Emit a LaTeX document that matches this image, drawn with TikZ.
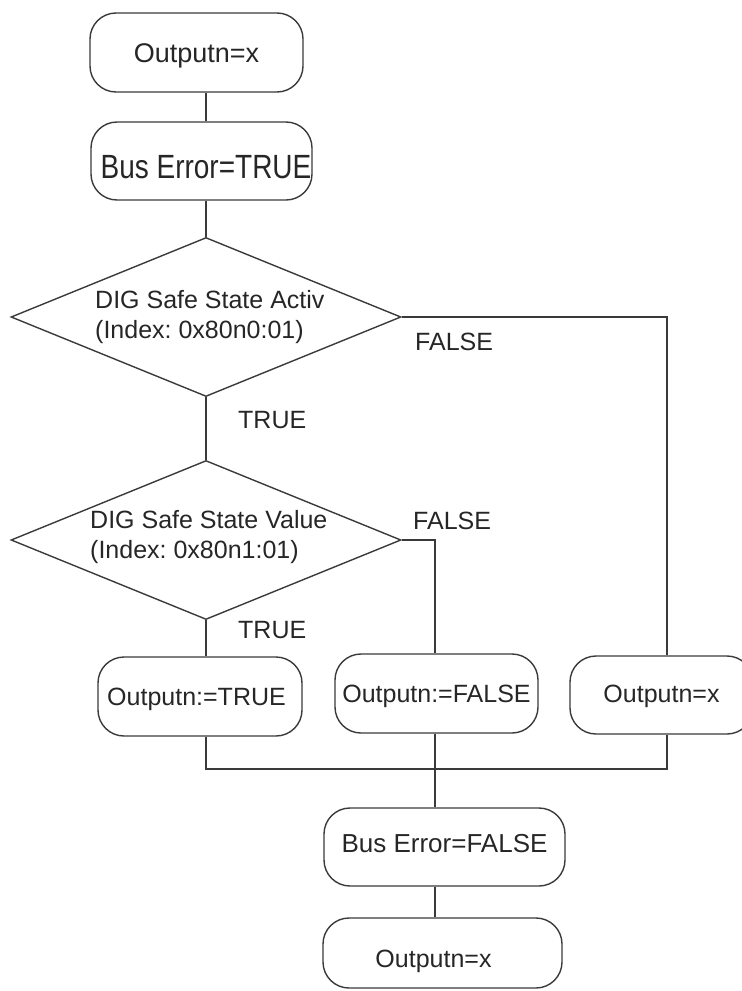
\documentclass[tikz,border=0pt]{standalone}
\usepackage{fontspec}
\usepackage{graphicx}
\setmainfont{Liberation Sans}
\frenchspacing
\usetikzlibrary{shapes.geometric}
\definecolor{ink}{HTML}{262626}
\definecolor{edge}{HTML}{3A3A3A}
\begin{document}
\begin{tikzpicture}[x=1bp,y=-1bp,
  box/.style={draw=edge, line width=1.4bp, rounded corners=26bp, inner sep=0pt, text=ink, align=center},
  dia/.style={draw=edge, line width=1.4bp, diamond, inner sep=0pt, minimum width=390bp, minimum height=159bp, aspect=2.45},
  lbl/.style={text=ink, inner sep=0pt, font=\fontsize{25bp}{30bp}\selectfont},
  con/.style={draw=edge, line width=1.4bp}]
\useasboundingbox (0,0) rectangle (742,991);

% boxes
\node[box, minimum width=213bp, minimum height=79bp, font=\fontsize{27bp}{32bp}\selectfont, text height=19.3bp, text depth=0pt] (b1) at (196.5,52.5) {Outputn=x};
\node[box, minimum width=221bp, minimum height=78bp, font=\fontsize{28bp}{33bp}\selectfont, text height=34bp, text depth=0pt] (b2) at (201.5,161) {\hspace*{9bp}\scalebox{1}[1.2]{Bus Error=TRUE}};

% diamonds
\node[dia] (d1) at (206,317) {};
\node[dia] (d2) at (206,540) {};
\node[lbl, anchor=base west] (d1t) at (95,308) {\vtop{\hbox{DIG Safe State Activ}\hbox{(Index: 0x80n0:01)}}};
\node[lbl, anchor=base west] (d2t) at (90,528) {\vtop{\hbox{DIG Safe State Value}\hbox{(Index: 0x80n1:01)}}};

% result boxes
\node[box, minimum width=204bp, minimum height=79bp, font=\fontsize{25bp}{30bp}\selectfont, text height=17.9bp, text depth=0pt] (b3) at (200,696.5) {Outputn:=TRUE\hspace*{7bp}};
\node[box, minimum width=203bp, minimum height=79bp, font=\fontsize{25bp}{30bp}\selectfont, text height=17.9bp, text depth=0pt] (b4) at (436.5,693.5) {Outputn:=FALSE};
\node[box, minimum width=183bp, minimum height=78bp, font=\fontsize{25bp}{30bp}\selectfont, text height=17.9bp, text depth=3bp] (b5) at (661.5,695) {Outputn=x};
\node[box, minimum width=241bp, minimum height=78bp, font=\fontsize{26bp}{31bp}\selectfont, text height=18.6bp, text depth=7bp] (b6) at (444.5,847) {Bus Error=FALSE};
\node[box, minimum width=239bp, minimum height=70bp, font=\fontsize{25bp}{30bp}\selectfont, text height=29.5bp, text depth=0pt] (b7) at (442.5,953) {Outputn=x\hspace*{18bp}};

% labels
\node[lbl, anchor=base west] (f1) at (415,350) {FALSE};
\node[lbl, anchor=base west] (t1) at (238,428) {TRUE};
\node[lbl, anchor=base west] (f2) at (413,529) {FALSE};
\node[lbl, anchor=base west] (t2) at (238,638) {TRUE};

% junction coordinates
\coordinate (jl) at (206,769);
\coordinate (jm) at (435,769);
\coordinate (jr) at (667,769);

% connectors
\draw[con] (jl |- b1.south) -- (jl |- b2.north);
\draw[con] (jl |- b2.south) -- (d1.north);
\draw[con] (d1.south) -- (d2.north);
\draw[con] (d1.east) -| (jr |- b5.north);
\draw[con] (d2.east) -| (jm |- b4.north);
\draw[con] (d2.south) -- (jl |- b3.north);
\draw[con] (jl |- b3.south) -- (jl) -- (jr) -- (jr |- b5.south);
\draw[con] (jm |- b4.south) -- (jm) -- (jm |- b6.north);
\draw[con] (jm |- b6.south) -- (jm |- b7.north);
\end{tikzpicture}
\end{document}
